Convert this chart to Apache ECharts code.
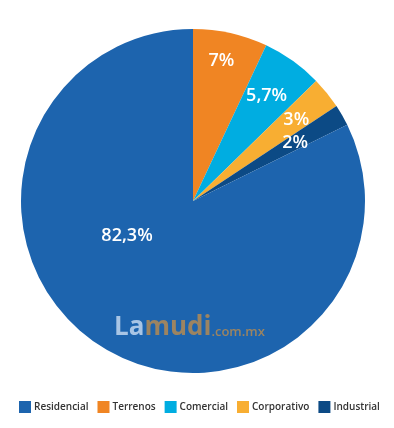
<!DOCTYPE html>
<html>
<head>
<meta charset="utf-8">
<script src="https://cdn.jsdelivr.net/npm/echarts@6/dist/echarts.min.js"></script>
<style>
  html, body { margin: 0; padding: 0; background: #fff; }
  #chart { width: 394px; height: 428px; }
</style>
</head>
<body>
<div id="chart"></div>
<script>
// categories in legend order
var legendNames = ['Residencial', 'Terrenos', 'Comercial', 'Corporativo', 'Industrial']
// slices in drawing order, clockwise from the top
var sliceNames = ['Terrenos', 'Comercial', 'Corporativo', 'Industrial', 'Residencial']
var sliceValues = [7, 5.7, 3, 2, 82.3]

var colorMap = {
  Residencial: '#1d64ae',
  Terrenos: '#f08523',
  Comercial: '#00ade1',
  Corporativo: '#f8ae32',
  Industrial: '#0c4a85'
}

// nudges from the default inside position, so labels sit like the original
var labelNudge = [[9, -53], [22, -33], [34, -25], [25, -14], [-19, -41]]

var chart = echarts.init(document.getElementById('chart'))

var option = {
  animation: false,
  legend: {
    data: legendNames,
    top: 401,
    left: 19,
    width: 375,
    padding: 0,
    icon: 'rect',
    itemWidth: 12,
    itemHeight: 12,
    itemGap: 9,
    textStyle: {
      color: '#333',
      fontSize: 10,
      fontWeight: 600,
      fontFamily: 'Open Sans',
      padding: [2, 0, 0, -2]
    }
  },
  graphic: [{
    type: 'text',
    left: 114,
    top: 315,
    z: 100,
    style: {
      text: '{a|La}{b|mudi}{c|.com.mx}',
      rich: {
        a: { fontSize: 26, fontWeight: 'bold', fontFamily: 'Open Sans', fill: '#a8c5e5', color: '#a8c5e5' },
        b: { fontSize: 26, fontWeight: 'bold', fontFamily: 'Open Sans', fill: '#9c8461', color: '#9c8461' },
        c: { fontSize: 13, fontWeight: 600, fontFamily: 'Open Sans', fill: '#9c8461', color: '#9c8461', padding: [8, 0, 0, 0] }
      }
    }
  }],
  series: [{
    type: 'pie',
    center: [193, 201],
    radius: 172,
    startAngle: 90,
    clockwise: true,
    silent: true,
    data: sliceNames.map(function(n, i) {
      return { name: n, value: sliceValues[i], itemStyle: { color: colorMap[n] } }
    }),
    label: {
      show: true,
      position: 'inside',
      color: '#fff',
      fontSize: 18,
      fontWeight: 600,
      fontFamily: 'Open Sans',
      formatter: function(p) {
        return String(p.value).replace('.', ',') + '%'
      }
    },
    labelLayout: function(p) {
      var d = labelNudge[p.dataIndex]
      return { dx: d[0], dy: d[1] }
    },
    labelLine: { show: false }
  }]
}

chart.setOption(option)
</script>
</body>
</html>
